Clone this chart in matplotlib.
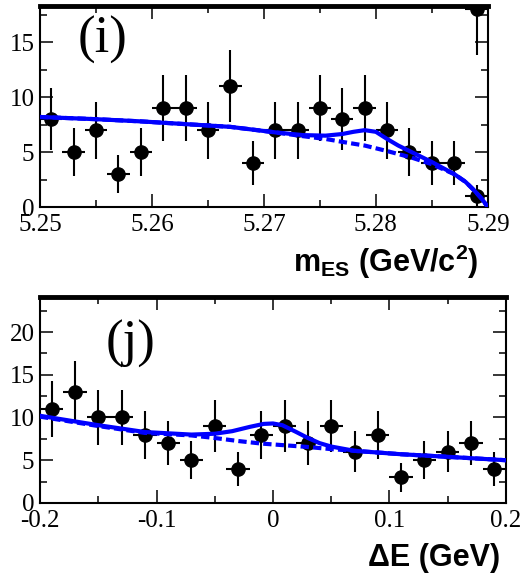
import numpy as np
import matplotlib
matplotlib.use("Agg")
import matplotlib.pyplot as plt
from matplotlib.ticker import MultipleLocator

plt.rcParams["font.family"] = ["Liberation Serif", "DejaVu Serif"]
plt.rcParams["mathtext.fontset"] = "custom"
plt.rcParams["mathtext.rm"] = "Liberation Sans:bold"
plt.rcParams["mathtext.it"] = "Liberation Sans:bold"
plt.rcParams["mathtext.bf"] = "Liberation Sans:bold"

# ── data: panel (i), m_ES ─────────────────────────────────────────────
mes_x = [5.251, 5.253, 5.255, 5.257, 5.259, 5.261, 5.263, 5.265, 5.267, 5.269,
         5.271, 5.273, 5.275, 5.277, 5.279, 5.281, 5.283, 5.285, 5.287, 5.289, 5.289]
mes_y = [8, 5, 7, 3, 5, 9, 9, 7, 11, 4, 7, 7, 9, 8, 9, 7, 5, 4, 4, 1, 18]
mes_err = [2.8, 2.2, 2.6, 1.7, 2.2, 3.0, 3.0, 2.6, 3.3, 2.0,
           2.6, 2.6, 3.0, 2.8, 3.0, 2.6, 2.2, 2.0, 2.0, 1.0, 4.2]

mes_fit_x = [5.250, 5.255, 5.259, 5.263, 5.267, 5.271, 5.2735, 5.2755, 5.2770,
             5.2780, 5.2790, 5.2800, 5.2810, 5.2820, 5.2832, 5.2850, 5.2870,
             5.2880, 5.2888, 5.2895, 5.2900]
mes_fit_y = [8.2, 8.0, 7.8, 7.55, 7.3, 6.8, 6.55, 6.5, 6.65, 6.85, 7.0, 6.85,
             6.2, 5.6, 5.0, 4.1, 3.0, 2.3, 1.5, 0.7, 0.0]
mes_bkg_x = [5.250, 5.255, 5.259, 5.263, 5.267, 5.271, 5.2735, 5.2755, 5.2772,
             5.2790, 5.2810, 5.2832, 5.2850, 5.2870, 5.2880, 5.2888, 5.2895, 5.2900]
mes_bkg_y = [8.2, 8.0, 7.8, 7.55, 7.3, 6.8, 6.45, 6.2, 5.9, 5.6, 5.1, 4.5,
             3.9, 3.0, 2.3, 1.5, 0.7, 0.0]
mes_ticks = [5.25, 5.26, 5.27, 5.28, 5.29]
mes_ticklabels = ["5.25", "5.26", "5.27", "5.28", "5.29"]
mes_yticks = [0, 5, 10, 15]

# ── data: panel (j), Delta E ──────────────────────────────────────────
de_x = [-0.19, -0.17, -0.15, -0.13, -0.11, -0.09, -0.07, -0.05, -0.03, -0.01,
        0.01, 0.03, 0.05, 0.07, 0.09, 0.11, 0.13, 0.15, 0.17, 0.19]
de_y = [11, 13, 10, 10, 8, 7, 5, 9, 4, 8, 9, 7, 9, 6, 8, 3, 5, 6, 7, 4]
de_err = [3.3, 3.6, 3.2, 3.2, 2.8, 2.6, 2.2, 3.0, 2.0, 2.8,
          3.0, 2.6, 3.0, 2.4, 2.8, 1.7, 2.2, 2.4, 2.6, 2.0]

de_fit_x = [-0.20, -0.15, -0.11, -0.07, -0.05, -0.035, -0.02, -0.008, 0.0,
            0.008, 0.02, 0.03, 0.04, 0.05, 0.07, 0.11, 0.15, 0.20]
de_fit_y = [10.2, 9.1, 8.3, 8.0, 8.1, 8.4, 8.9, 9.25, 9.3, 9.1, 8.3, 7.6,
            7.0, 6.6, 6.1, 5.7, 5.4, 5.0]
de_bkg_x = [-0.20, -0.15, -0.11, -0.07, -0.05, -0.03, -0.01, 0.01, 0.03,
            0.05, 0.07, 0.11, 0.15, 0.20]
de_bkg_y = [10.1, 9.0, 8.2, 7.9, 7.6, 7.25, 6.95, 6.75, 6.55, 6.3, 6.1,
            5.7, 5.4, 5.0]
de_ticks = [-0.2, -0.1, 0, 0.1, 0.2]
de_ticklabels = ["-0.2", "-0.1", "0", "0.1", "0.2"]
de_yticks = [0, 5, 10, 15, 20]

BLUE = "#0000ff"

fig = plt.figure(figsize=(5.25, 5.8), dpi=100)
ax1 = fig.add_axes([0.0762, 0.643, 0.853, 0.3466])
ax2 = fig.add_axes([0.0762, 0.1328, 0.8876, 0.3552])


def style(ax, xticks, xlabels, xminor, yticks, yminor):
    ax.set_xticks(xticks)
    ax.set_xticklabels(xlabels)
    ax.set_yticks(yticks)
    ax.set_yticklabels([str(v) for v in yticks])
    ax.xaxis.set_minor_locator(MultipleLocator(xminor))
    ax.yaxis.set_minor_locator(MultipleLocator(yminor))
    ax.tick_params(which="both", direction="in", top=True, right=True,
                   width=1.1, labelsize=18)
    ax.tick_params(which="major", length=9.5)
    ax.tick_params(which="minor", length=5)
    ax.tick_params(axis="x", pad=5)
    ax.tick_params(axis="y", pad=4)
    for s in ax.spines.values():
        s.set_linewidth(1.5)
    ax.spines["top"].set_linewidth(3.5)


# panel (i)
ax1.errorbar(mes_x, mes_y, yerr=mes_err, xerr=0.001, fmt="o", color="black",
             ms=9.5, elinewidth=1.5, capsize=0, zorder=3)
ax1.plot(mes_bkg_x, mes_bkg_y, color=BLUE, lw=3, ls=(0, (2, 1)), zorder=4)
ax1.plot(mes_fit_x, mes_fit_y, color=BLUE, lw=3, zorder=5)
style(ax1, mes_ticks, mes_ticklabels, 0.005, mes_yticks, 2.5)
ax1.set_xlim(5.25, 5.29)
ax1.set_ylim(0, 18.3)
ax1.text(0.14, 0.83, "(i)", transform=ax1.transAxes,
         fontsize=38, ha="center", va="center")
fig.text(0.912, 0.549, r"$\mathrm{m}_{\mathrm{ES}}$ (GeV/c$^{2}$)",
         fontsize=22, fontweight="bold", family="Liberation Sans",
         ha="right", va="center")

# panel (j)
ax2.errorbar(de_x, de_y, yerr=de_err, xerr=0.01, fmt="o", color="black",
             ms=9.5, elinewidth=1.5, capsize=0, zorder=3)
ax2.plot(de_bkg_x, de_bkg_y, color=BLUE, lw=3, ls=(0, (2, 1)), zorder=4)
ax2.plot(de_fit_x, de_fit_y, color=BLUE, lw=3, zorder=5)
style(ax2, de_ticks, de_ticklabels, 0.05, de_yticks, 2.5)
ax2.set_xlim(-0.2, 0.2)
ax2.set_ylim(0, 24.1)
ax2.text(0.195, 0.77, "(j)", transform=ax2.transAxes,
         fontsize=38, ha="center", va="center")
fig.text(0.952, 0.038, "ΔE (GeV)", fontsize=22, fontweight="bold",
         family="Liberation Sans", ha="right", va="center")

fig.savefig("out.png", dpi=100)
